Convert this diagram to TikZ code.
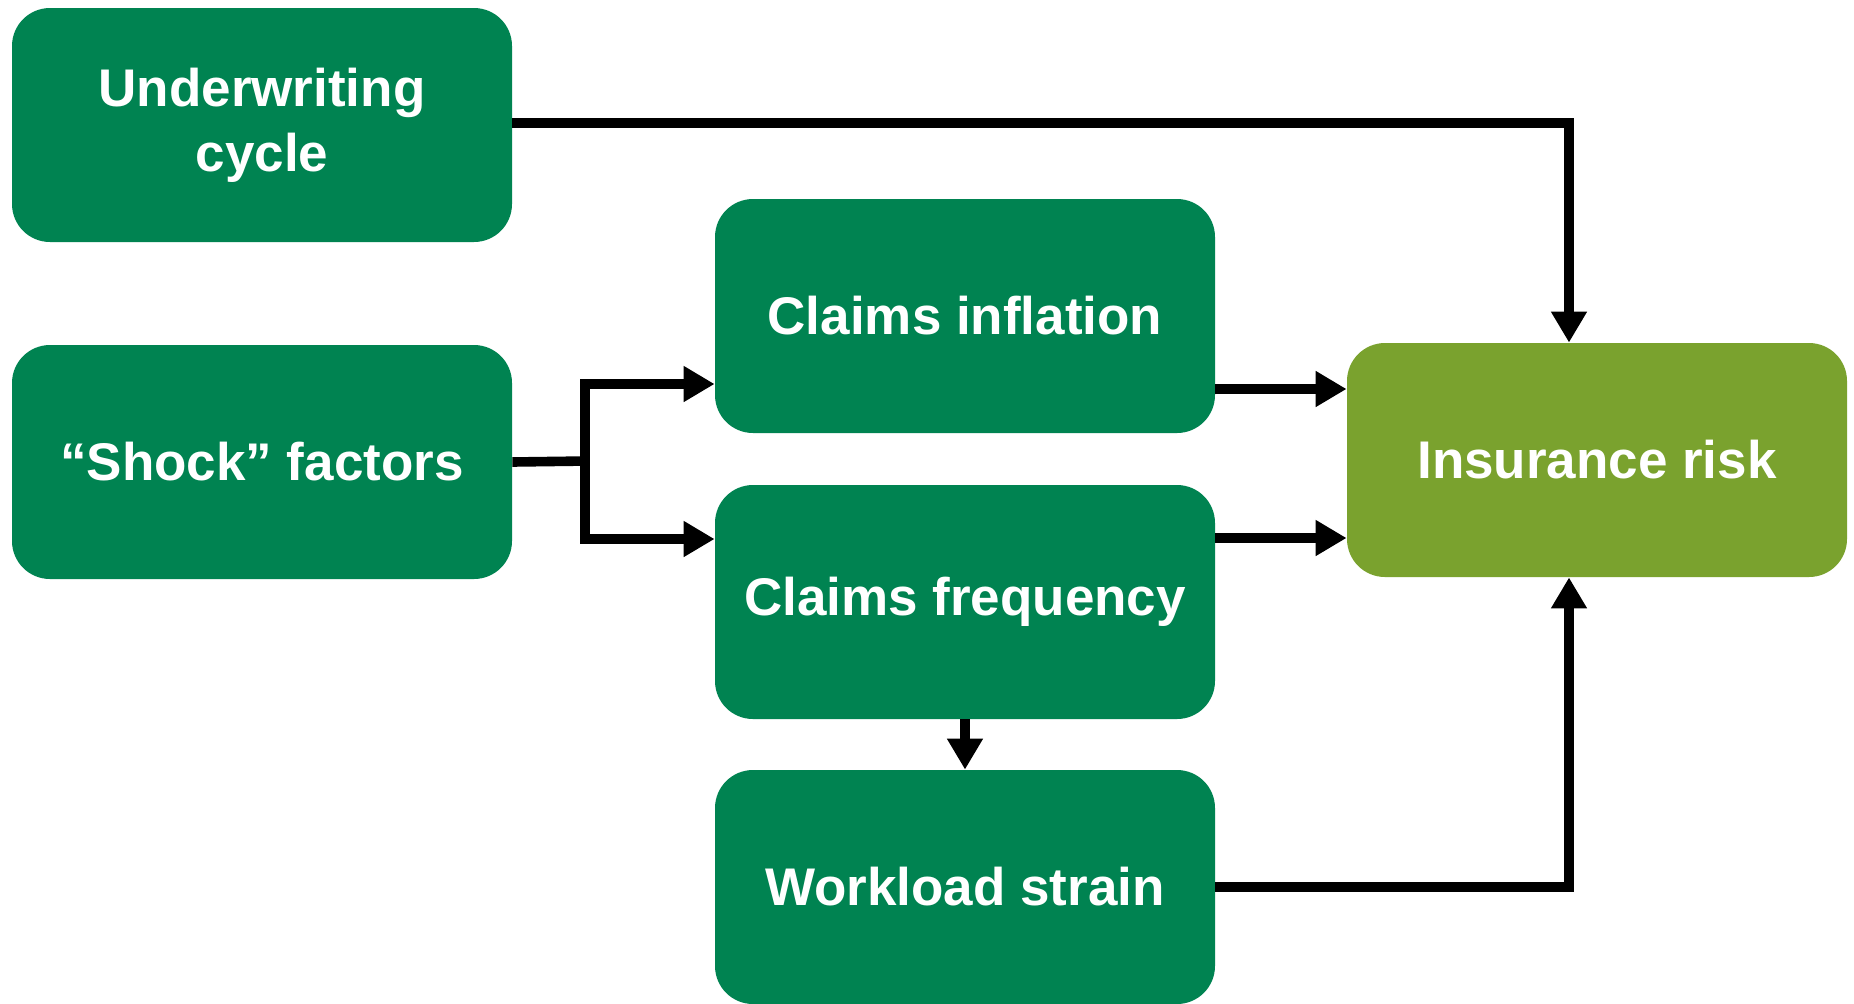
\documentclass[tikz,border=0pt]{standalone}
\usepackage{fontspec}
\setmainfont{Liberation Sans}
\usetikzlibrary{arrows.meta}
\definecolor{boxgreen}{RGB}{0,131,81}
\definecolor{riskgreen}{RGB}{122,162,46}
\tikzset{
  factor/.style={fill=boxgreen, rounded corners=19pt, minimum width=250pt,
    minimum height=117pt, inner sep=0pt, align=center, text=white,
    font=\bfseries\fontsize{26.5}{32.5}\selectfont},
  risk/.style={factor, fill=riskgreen},
  arr/.style={line width=4.8pt, -{Triangle[width=17pt,length=15.5pt]}},
  link/.style={line width=4.8pt}
}
\begin{document}
\begin{tikzpicture}[x=0.5pt, y=-0.5pt]
  \useasboundingbox (0,0) rectangle (1854,1003);
  \node[factor] (uw) at (262,125) {Underwriting\\cycle};
  \node[factor] (shock) at (262,462) {``Shock'' factors};
  \node[factor] (ci) at (965,316) {Claims inflation};
  \node[factor] (cf) at (965,602) {Claims frequency};
  \node[factor] (ws) at (965,887) {Workload strain};
  \node[risk] (ir) at (1597,460) {Insurance risk};
  \coordinate (split) at (585,461);
  \coordinate (rline) at (1569,123);
  % links
  \draw[link] (shock.east) -- ([xshift=1.2pt]split);
  \draw[arr] (split) |- ([yshift=-34pt]ci.west);
  \draw[arr] (split) |- ([yshift=31.5pt]cf.west);
  \draw[arr] (uw.east |- rline) -- (rline) -- (rline |- ir.north);
  \draw[arr] ([yshift=-36.5pt]ci.east) -- ([yshift=-36.5pt]ci.east -| ir.west);
  \draw[arr] ([yshift=32pt]cf.east) -- ([yshift=32pt]cf.east -| ir.west);
  \draw[arr] (cf.south) -- (ws.north);
  \draw[arr] (ws.east) -| (rline |- ir.south);
\end{tikzpicture}
\end{document}
